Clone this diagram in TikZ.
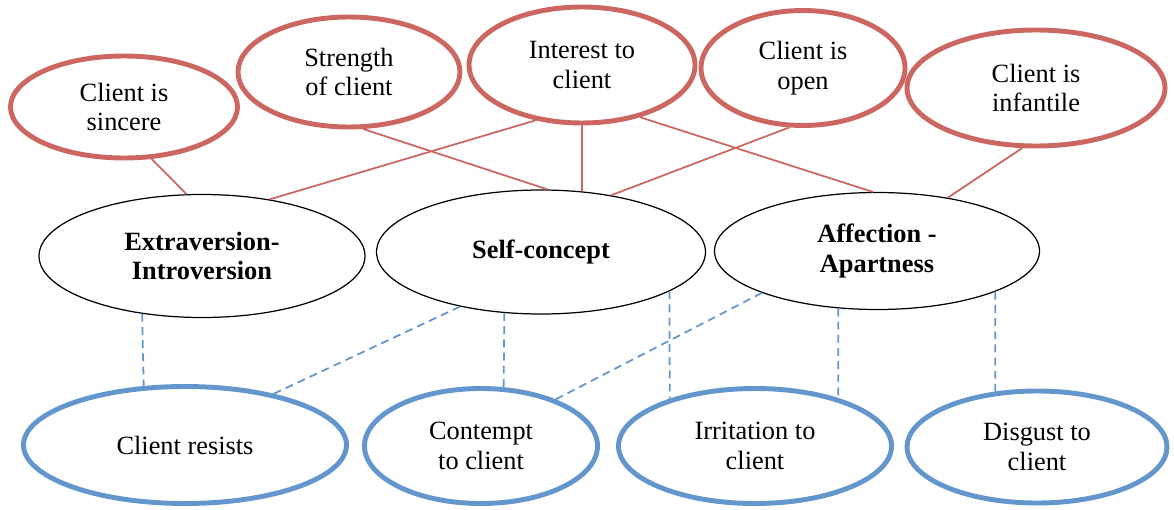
\documentclass[tikz,border=0pt]{standalone}
\usepackage{fontspec}
\setmainfont{Liberation Serif}
\usetikzlibrary{shapes}

\definecolor{ovalred}{RGB}{204,102,96}
\definecolor{ovalblue}{RGB}{98,150,204}

\begin{document}
\begin{tikzpicture}[
    oval/.style={ellipse, inner sep=0pt, align=center, font=\fontsize{15}{17}\selectfont},
    redoval/.style={oval, draw=ovalred, line width=2.8pt},
    blueoval/.style={oval, draw=ovalblue, line width=2.8pt},
    blackoval/.style={oval, draw=black, line width=0.7pt, font=\fontsize{15}{17}\selectfont\bfseries},
    redline/.style={draw=ovalred, line width=1pt},
    blueline/.style={draw=ovalblue, line width=1pt, dash pattern=on 4.5pt off 3pt}]
    \useasboundingbox (0, 0) rectangle (23.48, 10.18);

    \node [redoval, minimum width=4.54cm, minimum height=2.04cm] (sincere) at (2.48, 8.04) {Client is\\sincere};
    \node [redoval, minimum width=4.44cm, minimum height=2.20cm] (strength) at (6.98, 8.74) {Strength\\of client};
    \node [redoval, minimum width=4.52cm, minimum height=2.32cm] (interest) at (11.64, 8.88) {Interest to\\client};
    \node [redoval, minimum width=4.08cm, minimum height=2.30cm] (open) at (16.06, 8.82) {Client is\\open};
    \node [redoval, minimum width=5.16cm, minimum height=2.32cm] (infantile) at (20.72, 8.42) {Client is\\infantile};

    \node [blackoval, minimum width=6.52cm, minimum height=2.46cm] (extra) at (4.04, 5.06) {Extraversion-\\Introversion};
    \node [blackoval, minimum width=6.58cm, minimum height=2.48cm] (self) at (10.82, 5.14) {Self-concept};
    \node [blackoval, minimum width=6.50cm, minimum height=2.34cm] (affect) at (17.54, 5.16) {Affection -\\Apartness};

    \node [blueoval, minimum width=6.46cm, minimum height=2.34cm] (resists) at (3.70, 1.28) {Client resists};
    \node [blueoval, minimum width=4.66cm, minimum height=2.30cm] (contempt) at (9.62, 1.26) {Contempt\\to client};
    \node [blueoval, minimum width=5.46cm, minimum height=2.30cm] (irritation) at (15.10, 1.26) {Irritation to\\client};
    \node [blueoval, minimum width=5.20cm, minimum height=2.24cm] (disgust) at (20.74, 1.24) {Disgust to\\client};

    \draw [redline] (sincere.298) -- (extra.104);
    \draw [redline] (strength.284) -- (self.84);
    \draw [redline] (interest.230) -- (extra.40);
    \draw [redline] (interest.south) -- (self.56);
    \draw [redline] (interest.318) -- (affect.94);
    \draw [redline] (open.257) -- (self.39);
    \draw [redline] (infantile.257) -- (affect.37);

    \draw [blueline] (extra.224) -- (resists.125);
    \draw [blueline] (self.214) -- (resists.30);
    \draw [blueline] (self.239) -- (contempt.69);
    \draw [blueline] (self.343) -- (irritation.151);
    \draw [blueline] (affect.200) -- (contempt.32);
    \draw [blueline] (affect.236) -- (irritation.30);
    \draw [blueline] (affect.341) -- (disgust.127);
\end{tikzpicture}
\end{document}
